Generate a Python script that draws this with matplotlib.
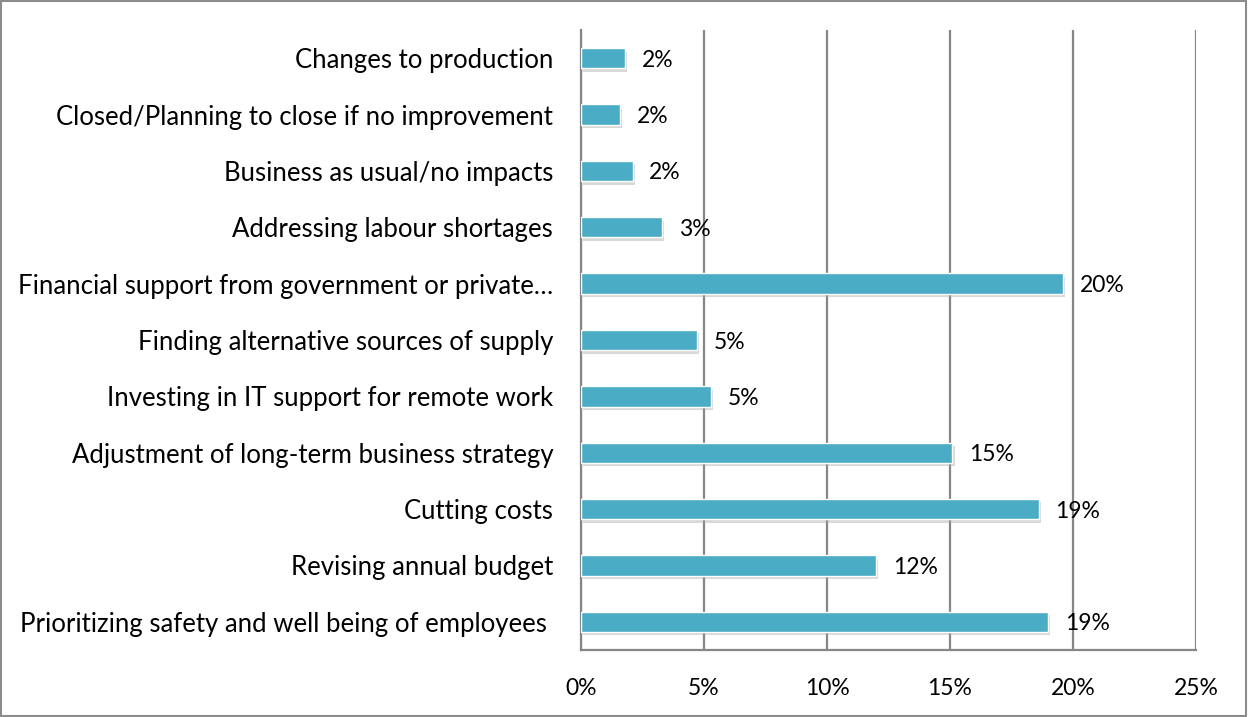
import matplotlib.pyplot as plt
import matplotlib.patheffects as pe
from matplotlib.patches import Rectangle

categories = [
    "Prioritizing safety and well being of employees ",
    "Revising annual budget",
    "Cutting costs",
    "Adjustment of long-term business strategy",
    "Investing in IT support for remote work",
    "Finding alternative sources of supply",
    "Financial support from government or private\u2026",
    "Addressing labour shortages",
    "Business as usual/no impacts",
    "Closed/Planning to close if no improvement",
    "Changes to production",
]
values = [19.0, 12.0, 18.6, 15.1, 5.3, 4.7, 19.6, 3.3, 2.1, 1.6, 1.8]
xticks = [0, 5, 10, 15, 20, 25]

bar_color = "#4BACC6"
grid_color = "#868686"

plt.rcParams["font.family"] = ["Lato", "DejaVu Sans"]

fig = plt.figure(figsize=(12.48, 7.17), dpi=100)
ax = fig.add_axes([581 / 1248, 1 - 650 / 717, 615 / 1248, 620 / 717])

ypos = list(range(len(categories)))
bars = ax.barh(ypos, values, height=0.36, color=bar_color,
               edgecolor="white", linewidth=1.0, zorder=3)
for b in bars:
    b.set_path_effects([pe.SimplePatchShadow(offset=(1.5, -2.5), shadow_rgbFace="#aaaaaa", alpha=0.45),
                        pe.Normal()])

for y, v in zip(ypos, values):
    ax.annotate(f"{round(v):d}%", xy=(v, y), xytext=(12, -1.5), textcoords="offset points",
                va="center", ha="left", fontsize=16.5, color="black", zorder=4)

ax.set_xlim(0, 25)
ax.set_ylim(-0.5, len(categories) - 0.5)
ax.set_xticks(xticks)
ax.set_xticklabels([f"{t}%" for t in xticks])
ax.set_yticks(ypos)
ax.set_yticklabels(categories)
ax.tick_params(axis="both", length=0)
ax.tick_params(axis="y", pad=20, labelsize=18.5)
ax.tick_params(axis="x", pad=20, labelsize=16.5)

ax.grid(axis="x", color=grid_color, linewidth=1.6, zorder=0)
for s in ["top", "right"]:
    ax.spines[s].set_visible(False)
for s in ["left", "bottom"]:
    ax.spines[s].set_color(grid_color)
    ax.spines[s].set_linewidth(1.6)
    ax.spines[s].set_zorder(2)

fig.patches.append(Rectangle((0.001, 0.002), 0.997, 0.996, transform=fig.transFigure,
                             fill=False, edgecolor="#8c8c8c", linewidth=1.5))

fig.savefig("out.png", dpi=100)
